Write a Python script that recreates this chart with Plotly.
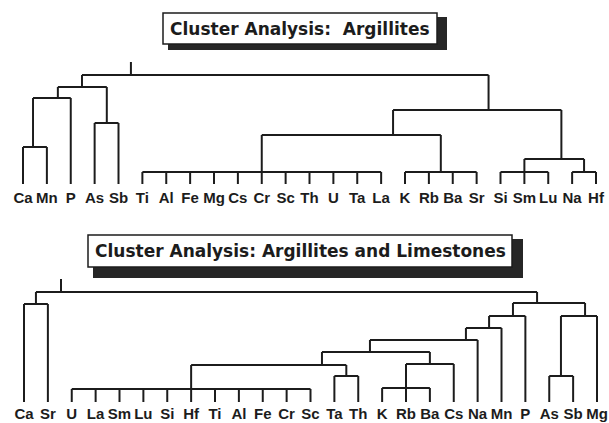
import plotly.graph_objects as go

# ---------------- data ----------------
top_leaves = ["Ca", "Mn", "P", "As", "Sb", "Ti", "Al", "Fe", "Mg", "Cs", "Cr", "Sc", "Th",
              "U", "Ta", "La", "K", "Rb", "Ba", "Sr", "Si", "Sm", "Lu", "Na", "Hf"]
# (node, children, linkage height, stem position in leaf units)
top_merges = [
    ("A1", ["Ca", "Mn"], 37, 0.42),
    ("A2", ["A1", "P"], 86, 1.46),
    ("A3", ["As", "Sb"], 61, 3.51),
    ("A4", ["A2", "A3"], 97, 2.47),
    ("B1", ["Ti", "Al", "Fe", "Mg", "Cs", "Cr", "Sc", "Th", "U", "Ta", "La"], 12, 10.0),
    ("B2", ["K", "Rb", "Ba", "Sr"], 12, 17.5),
    ("B3", ["Si", "Sm", "Lu"], 12, 21.0),
    ("B4", ["Na", "Hf"], 12, 23.5),
    ("B5", ["B3", "B4"], 25, 22.55),
    ("B6", ["B1", "B2"], 49, 15.5),
    ("B7", ["B6", "B5"], 74, 19.5),
    ("ROOT", ["A4", "B7"], 109, 4.52),
]
top_root_stub = 122

bot_leaves = ["Ca", "Sr", "U", "La", "Sm", "Lu", "Si", "Hf", "Ti", "Al", "Fe", "Cr", "Sc",
              "Ta", "Th", "K", "Rb", "Ba", "Cs", "Na", "Mn", "P", "As", "Sb", "Mg"]
bot_merges = [
    ("C1", ["Ca", "Sr"], 98, 0.5),
    ("D1", ["U", "La", "Sm", "Lu", "Si", "Hf", "Ti", "Al", "Fe", "Cr", "Sc"], 13, 7.0),
    ("D2", ["Ta", "Th"], 26, 13.5),
    ("D3", ["D1", "D2"], 37, 12.48),
    ("D4", ["K", "Rb", "Ba"], 14, 16.0),
    ("D5", ["D4", "Cs"], 38, 17.0),
    ("D6", ["D3", "D5"], 50, 14.49),
    ("D7", ["D6", "Na"], 62, 18.51),
    ("D8", ["D7", "Mn"], 74, 19.48),
    ("D9", ["D8", "P"], 86, 20.48),
    ("E1", ["As", "Sb"], 26, 22.49),
    ("E2", ["E1", "Mg"], 86, 23.5),
    ("D10", ["D9", "E2"], 99, 21.49),
    ("ROOT", ["C1", "D10"], 110, 1.55),
]
bot_root_stub = 123

top_title = "Cluster Analysis:  Argillites"
bot_title = "Cluster Analysis: Argillites and Limestones"

# ---------------- layout constants (pixels) ----------------
W, H = 609, 423
LINE = "#1c1c1c"
FONT = "DejaVu Sans"
LABEL_FONT = "Liberation Sans"


def tree_lines(leaves, merges, stub_top):
    pos = {name: float(i) for i, name in enumerate(leaves)}
    hgt = {name: 0.0 for name in leaves}
    xs, ys = [], []
    root = None
    for node, kids, h, p in merges:
        kx = [pos[k] for k in kids]
        xs += [min(kx), max(kx), None]
        ys += [h, h, None]
        for k in kids:
            xs += [pos[k], pos[k], None]
            ys += [hgt[k], h, None]
        pos[node] = p
        hgt[node] = h
        root = node
    xs += [pos[root], pos[root], None]
    ys += [hgt[root], stub_top, None]
    return xs, ys


fig = go.Figure()

tx, ty = tree_lines(top_leaves, top_merges, top_root_stub)
fig.add_trace(go.Scatter(x=tx, y=ty, mode="lines", line=dict(color=LINE, width=2),
                         xaxis="x", yaxis="y", hoverinfo="skip", showlegend=False))
fig.add_trace(go.Scatter(x=list(range(len(top_leaves))), y=[-15] * len(top_leaves),
                         mode="text", text=top_leaves, textposition="middle center",
                         textfont=dict(family=LABEL_FONT, size=15, color=LINE, weight="bold"),
                         xaxis="x", yaxis="y", hoverinfo="skip", showlegend=False))

bx, by = tree_lines(bot_leaves, bot_merges, bot_root_stub)
fig.add_trace(go.Scatter(x=bx, y=by, mode="lines", line=dict(color=LINE, width=2),
                         xaxis="x2", yaxis="y2", hoverinfo="skip", showlegend=False))
fig.add_trace(go.Scatter(x=list(range(len(bot_leaves))), y=[-13] * len(bot_leaves),
                         mode="text", text=bot_leaves, textposition="middle center",
                         textfont=dict(family=LABEL_FONT, size=15, color=LINE, weight="bold"),
                         xaxis="x2", yaxis="y2", hoverinfo="skip", showlegend=False))

t_x0, b_x0, dx = 23.0, 24.0, 23.875
t_y0, b_y0 = 184.0, 402.0
ax_common = dict(visible=False, showgrid=False, zeroline=False, domain=[0, 1])
layout_axes = dict(
    xaxis=dict(range=[-t_x0 / dx, (W - t_x0) / dx], **ax_common),
    yaxis=dict(range=[t_y0 - H, t_y0], **ax_common),
    xaxis2=dict(range=[-b_x0 / dx, (W - b_x0) / dx], anchor="y2", overlaying="x", **ax_common),
    yaxis2=dict(range=[b_y0 - H, b_y0], anchor="x2", overlaying="y", **ax_common),
)


def px(x):
    return x / W


def py(y):
    return 1 - y / H


shapes = []
annotations = []


def title_box(x0, y0, x1, y1, sh, sb, text, size):
    shapes.append(dict(type="rect", xref="paper", yref="paper",
                       x0=px(x0 + 5), x1=px(x1 + sh), y0=py(y1 + sb), y1=py(y0 + 4),
                       fillcolor="#262626", line=dict(width=0), layer="above"))
    shapes.append(dict(type="rect", xref="paper", yref="paper",
                       x0=px(x0), x1=px(x1), y0=py(y1), y1=py(y0),
                       fillcolor="white", line=dict(color=LINE, width=1.5), layer="above"))
    annotations.append(dict(xref="paper", yref="paper", x=px((x0 + x1) / 2),
                            y=py((y0 + y1) / 2), text=text, showarrow=False,
                            xanchor="center", yanchor="middle",
                            font=dict(family=FONT, size=size, color=LINE, weight="bold")))


title_box(163, 13, 437, 44, 10, 6, top_title, 17)
title_box(88, 235, 512, 267, 11, 11, bot_title, 17)

fig.update_layout(
    width=W, height=H,
    margin=dict(l=0, r=0, t=0, b=0),
    paper_bgcolor="white", plot_bgcolor="white",
    shapes=shapes, annotations=annotations,
    **layout_axes,
)

fig.write_html("out.html")
